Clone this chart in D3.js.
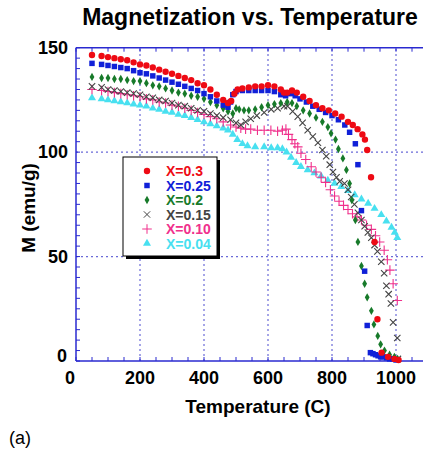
<!DOCTYPE html>
<html>
<head>
<meta charset="utf-8">
<script src="https://cdn.jsdelivr.net/npm/d3@7"></script>
<style>
	body { margin: 0; background: #fff; }
	svg { display: block; font-family: "Liberation Sans", Arial, sans-serif; }
</style>
</head>
<body>
<div class="plot"></div>
<script>
// Series: [temperature (C), magnetization (emu/g)]
const sX030 = [[50,146.5],[80,146],[100,145.5],[120,145],[140,144.5],[160,144],[180,143],[200,142],[220,141.5],[240,140.5],[260,139.5],[280,138.5],[300,137.5],[320,136.5],[340,135.5],[360,134.5],[380,133],[400,132],[420,130],[440,127.5],[460,125],[475,123.5],[485,124.5],[495,128],[505,130],[520,130.5],[540,131],[560,131.5],[580,131.5],[600,132],[620,131.5],[640,130],[650,128.5],[660,128.5],[675,129.5],[690,128.5],[710,126.5],[730,124.5],[750,122.5],[770,121],[790,120],[810,118.5],[830,117],[850,114.5],[865,113],[880,111],[895,108.5],[903,106],[910,101],[922,88],[933,57],[942,20],[955,4],[975,2],[995,1],[1008,0.5]];
const sX025 = [[50,142.5],[80,142],[100,141.5],[120,141],[140,140.5],[160,140],[180,139],[200,138],[220,137.5],[240,136.5],[260,135.5],[280,134.5],[300,133.5],[320,132.5],[340,131.5],[360,130.5],[380,129.5],[400,128],[420,126.5],[440,124.5],[460,122.5],[475,121.5],[483,124],[490,127.5],[500,129],[520,129.5],[540,129.5],[560,129.5],[580,129.5],[600,129.5],[620,129],[640,127.5],[655,127],[670,128],[685,127],[700,125.5],[720,124],[740,122],[760,120.5],[780,119],[800,117.5],[820,115.5],[840,113],[855,109.5],[873,104],[881,94],[892,72],[902,43],[910,17],[920,4],[928,3.5],[936,3],[944,2.5],[952,2],[960,2],[970,1.5],[980,1],[990,1],[1000,0.5]];
const sX020 = [[50,136],[80,135.5],[100,135.5],[120,135],[140,135],[160,134.5],[180,134],[200,134],[220,133],[240,132],[260,131.5],[280,130.5],[300,129.5],[320,128.5],[340,128],[360,127],[380,126.5],[400,125.5],[420,124],[440,122.5],[460,121],[475,119.5],[490,118.5],[500,121],[510,120.5],[525,120],[540,120],[560,120.5],[580,121.5],[600,122.5],[620,123],[640,123.5],[660,124],[675,123.5],[690,122],[710,120],[730,118.5],[750,116.5],[770,114.5],[787,112],[797,109],[811,106],[820,101.5],[834,97],[845,91.5],[855,85],[862,77],[873,67.5],[881,57],[892,45.5],[902,37],[910,30.5],[923,24],[931,17.5],[943,12],[952,8],[964,5],[980,3],[995,2],[1005,1]];
const sX015 = [[50,131.5],[80,131],[100,130],[120,129.5],[140,129],[160,128.5],[180,128],[200,127.5],[220,126.5],[240,126],[260,125],[280,124.5],[300,123.5],[320,122.5],[340,122],[360,121],[380,120],[400,119.5],[420,118.5],[440,117.5],[460,116.5],[483,115.5],[500,114],[515,113],[530,114.5],[546,116],[565,117.5],[588,119],[610,120.5],[630,121],[650,122],[661,122],[677,119.5],[693,117],[708,114],[724,110.5],[740,107.5],[756,104.5],[770,101],[782,98],[793,94],[803,90.5],[814,88],[824,86],[839,85],[850,82],[860,78.5],[870,75],[881,71],[892,67.5],[902,64.5],[912,61.5],[923,59],[933,55.5],[942,52.5],[954,47.5],[963,42],[970,36],[977,32],[984,27.5],[991,18.5],[1004,11],[1006,1]];
const sX010 = [[50,130],[80,129.5],[100,129],[120,128.5],[140,128],[160,127.5],[180,127],[200,126.5],[220,125.5],[240,125],[260,124],[280,123.5],[300,122.5],[320,122],[340,121],[360,120],[380,119],[400,118],[420,117],[440,116],[460,114.5],[483,113],[500,112],[515,111.5],[530,111],[546,111],[567,110.5],[588,110.5],[609,110.5],[630,110],[645,110.5],[656,111],[664,108.5],[675,106],[684,104],[693,102.5],[703,99.5],[718,96.5],[735,93],[750,90.5],[766,88],[780,85.5],[795,82],[808,79],[822,76.5],[836,74.5],[850,72.5],[864,70.5],[878,69],[892,67.5],[908,65],[923,63],[936,60],[949,57],[963,53],[973,48.5],[981,43.5],[991,37],[1004,29]];
const sX004 = [[50,126],[80,125.5],[100,125],[120,124.5],[140,124],[160,123.5],[180,123],[200,122.5],[220,122],[240,121],[260,120.5],[280,119.5],[300,119],[320,118],[340,117.5],[360,116.5],[380,115.5],[400,114.5],[420,113.5],[440,112.5],[460,111.5],[475,110.5],[490,108.5],[504,106],[520,104],[536,103],[560,102.5],[588,102.5],[610,102],[630,102],[645,101.5],[658,100],[672,97.5],[688,95],[703,93],[724,91.5],[745,90],[766,88.5],[787,86.5],[808,85],[829,83.5],[850,81.5],[871,79.5],[892,77.5],[913,75.5],[933,73],[954,70],[970,67],[986,64],[996,61.5],[1004,59]];

const seriesNames = ['X=0.3', 'X=0.25', 'X=0.2', 'X=0.15', 'X=0.10', 'X=0.04'];
const seriesData = [sX030, sX025, sX020, sX015, sX010, sX004];
const seriesColors = ['#ee0a14', '#1020d8', '#177a2a', '#444444', '#f0308c', '#48e0f0'];
const seriesSymbols = [d3.symbolCircle, d3.symbolSquare, d3.symbolDiamond, d3.symbolTimes, d3.symbolPlus, d3.symbolTriangle];
const symbolSizes = [32, 30, 20, 28, 32, 28];
const xTicks = [0, 200, 400, 600, 800, 1000];
const yTicks = [0, 50, 100, 150];

const W = 423, H = 455;
const svg = d3.select('.plot').append('svg')
	.attr('width', W)
	.attr('height', H);

const x = d3.scaleLinear().domain([0, 1100]).range([76, 428]);
const y = d3.scaleLinear().domain([0, 150]).range([361, 47.7]);

const frameColor = '#2a2ad0';
const gridColor = '#6a6ad8';

// Grid lines
const grid = svg.append('g');
grid.selectAll('.gx').data(xTicks.filter(d => d > 0).concat([1100]))
	.enter().append('line')
	.attr('x1', d => x(d)).attr('x2', d => x(d))
	.attr('y1', y(0)).attr('y2', y(150))
	.attr('stroke', gridColor).attr('stroke-width', 1.2)
	.attr('stroke-dasharray', '2,3');
grid.selectAll('.gy').data([50, 100])
	.enter().append('line')
	.attr('x1', x(0)).attr('x2', W)
	.attr('y1', d => y(d)).attr('y2', d => y(d))
	.attr('stroke', gridColor).attr('stroke-width', 1.2)
	.attr('stroke-dasharray', '2,3');

// Frame and minor ticks (inward)
const frame = svg.append('g');
frame.append('line').attr('x1', x(0)).attr('x2', W).attr('y1', y(0)).attr('y2', y(0))
	.attr('stroke', frameColor).attr('stroke-width', 1.5);
frame.append('line').attr('x1', x(0)).attr('x2', W).attr('y1', y(150)).attr('y2', y(150))
	.attr('stroke', frameColor).attr('stroke-width', 1.5);
frame.append('line').attr('x1', x(0)).attr('x2', x(0)).attr('y1', y(0)).attr('y2', y(150))
	.attr('stroke', frameColor).attr('stroke-width', 1.5);

const xMinor = d3.range(0, 1101, 50);
frame.selectAll('.tb').data(xMinor).enter().append('line')
	.attr('x1', d => x(d)).attr('x2', d => x(d))
	.attr('y1', y(0)).attr('y2', y(0) - 4)
	.attr('stroke', frameColor);
frame.selectAll('.tt').data(xMinor).enter().append('line')
	.attr('x1', d => x(d)).attr('x2', d => x(d))
	.attr('y1', y(150)).attr('y2', y(150) + 4)
	.attr('stroke', frameColor);
const yMinor = d3.range(0, 151, 5);
frame.selectAll('.tl').data(yMinor).enter().append('line')
	.attr('x1', x(0)).attr('x2', x(0) + 4)
	.attr('y1', d => y(d)).attr('y2', d => y(d))
	.attr('stroke', frameColor);

// Tick labels
svg.selectAll('.xl').data(xTicks).enter().append('text')
	.attr('x', d => d === 0 ? x(d) - 6 : x(d))
	.attr('y', 384)
	.attr('text-anchor', 'middle')
	.attr('font-size', 18).attr('font-weight', 'bold')
	.text(d => d);
svg.selectAll('.yl').data(yTicks).enter().append('text')
	.attr('x', d => d === 0 ? 67 : 68)
	.attr('y', d => y(d) + (d === 0 ? 1 : 6))
	.attr('text-anchor', 'end')
	.attr('font-size', 18).attr('font-weight', 'bold')
	.text(d => d);

// Titles
svg.append('text').attr('x', 250).attr('y', 25)
	.attr('text-anchor', 'middle')
	.attr('font-size', 23).attr('font-weight', 'bold')
	.text('Magnetization vs. Temperature');
svg.append('text').attr('x', 258).attr('y', 413)
	.attr('text-anchor', 'middle')
	.attr('font-size', 19).attr('font-weight', 'bold')
	.text('Temperature (C)');
svg.append('text')
	.attr('transform', 'translate(35,208) rotate(-90)')
	.attr('text-anchor', 'middle')
	.attr('font-size', 19).attr('font-weight', 'bold')
	.text('M (emu/g)');
svg.append('text').attr('x', 9).attr('y', 444)
	.attr('font-size', 18)
	.text('(a)');

// Data markers
const marks = svg.append('g');
for (let i = seriesData.length - 1; i >= 0; i--) {
	const sym = d3.symbol().type(seriesSymbols[i]).size(symbolSizes[i]);
	const stroked = i === 3 || i === 4;
	marks.append('g').selectAll('path').data(seriesData[i])
		.enter().append('path')
		.attr('transform', d => `translate(${x(d[0])},${y(d[1])})`)
		.attr('d', sym)
		.attr('fill', stroked ? 'none' : seriesColors[i])
		.attr('stroke', stroked ? seriesColors[i] : 'none')
		.attr('stroke-width', 1.1);
}

// Legend
const lg = svg.append('g');
lg.append('rect').attr('x', 126).attr('y', 160).attr('width', 94).attr('height', 99).attr('fill', '#000');
lg.append('rect').attr('x', 123).attr('y', 157).attr('width', 94).attr('height', 99)
	.attr('fill', '#fff').attr('stroke', '#000').attr('stroke-width', 1);
seriesNames.forEach((name, i) => {
	const ry = 171 + i * 14.5;
	const sym = d3.symbol().type(seriesSymbols[i]).size(symbolSizes[i]);
	const stroked = i === 3 || i === 4;
	lg.append('path')
		.attr('transform', `translate(147,${ry})`)
		.attr('d', sym)
		.attr('fill', stroked ? 'none' : seriesColors[i])
		.attr('stroke', stroked ? seriesColors[i] : 'none');
	lg.append('text').attr('x', 166).attr('y', ry + 5)
		.attr('font-size', 14).attr('font-weight', 'bold')
		.attr('fill', seriesColors[i])
		.text(name);
});
</script>
</body>
</html>
